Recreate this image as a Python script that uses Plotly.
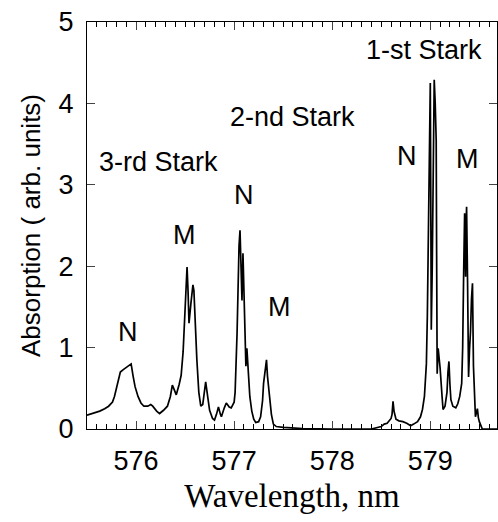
import plotly.graph_objects as go

# Wavelength (nm) and absorption (arb. units)
wavelength = [575.50, 575.56, 575.63, 575.68, 575.72, 575.76, 575.78, 575.80, 575.82, 575.84,
              575.87, 575.90, 575.93, 575.95, 575.97, 575.99, 576.02, 576.05, 576.08, 576.12,
              576.15, 576.17, 576.21, 576.24, 576.28, 576.32, 576.35, 576.37, 576.39, 576.41,
              576.44, 576.46, 576.48, 576.50, 576.52, 576.53, 576.54, 576.56, 576.58, 576.59,
              576.60, 576.62, 576.64, 576.66, 576.68, 576.71, 576.73, 576.75, 576.78, 576.80,
              576.82, 576.84, 576.86, 576.87, 576.90, 576.92, 576.95, 576.97, 577.00, 577.01,
              577.03, 577.04, 577.05, 577.06, 577.07, 577.08, 577.09, 577.10, 577.11, 577.12,
              577.13, 577.14, 577.16, 577.18, 577.20, 577.22, 577.25, 577.27, 577.29, 577.30,
              577.32, 577.33, 577.34, 577.35, 577.36, 577.37, 577.38, 577.40, 577.43, 577.50,
              577.60, 577.70, 578.00, 578.40, 578.50, 578.53, 578.56, 578.58, 578.60, 578.61,
              578.62, 578.63, 578.65, 578.68, 578.72, 578.76, 578.80, 578.83, 578.87, 578.90,
              578.92, 578.94, 578.96, 578.97, 578.98, 578.99, 579.00, 579.005, 579.01, 579.02,
              579.03, 579.04, 579.05, 579.06, 579.065, 579.07, 579.08, 579.09, 579.10, 579.12,
              579.13, 579.15, 579.17, 579.18, 579.19, 579.20, 579.21, 579.23, 579.26, 579.28,
              579.30, 579.32, 579.33, 579.34, 579.35, 579.355, 579.36, 579.365, 579.37, 579.38,
              579.39, 579.40, 579.41, 579.42, 579.43, 579.44, 579.45, 579.46, 579.47, 579.48,
              579.49, 579.50, 579.52, 579.53, 579.68]
absorption = [0.17, 0.19, 0.22, 0.25, 0.28, 0.33, 0.40, 0.50, 0.62, 0.70,
              0.73, 0.76, 0.79, 0.80, 0.65, 0.52, 0.40, 0.32, 0.28, 0.28,
              0.30, 0.28, 0.22, 0.19, 0.23, 0.28, 0.40, 0.54, 0.48, 0.42,
              0.55, 0.66, 0.95, 1.55, 1.99, 1.70, 1.30, 1.55, 1.77, 1.70,
              1.35, 0.85, 0.45, 0.28, 0.30, 0.58, 0.40, 0.23, 0.13, 0.11,
              0.18, 0.27, 0.18, 0.15, 0.26, 0.32, 0.27, 0.26, 0.33, 0.45,
              1.18, 1.90, 2.25, 2.44, 1.95, 1.58, 2.16, 1.70, 1.10, 0.77,
              0.99, 0.75, 0.40, 0.22, 0.12, 0.08, 0.09, 0.15, 0.35, 0.56,
              0.75, 0.85, 0.65, 0.53, 0.49, 0.30, 0.18, 0.06, 0.03, 0.02,
              0.01, 0.005, 0.00, 0.00, 0.03, 0.06, 0.07, 0.10, 0.13, 0.18,
              0.34, 0.22, 0.12, 0.10, 0.09, 0.07, 0.04, 0.06, 0.09, 0.15,
              0.24, 0.40, 0.80, 1.40, 2.20, 3.50, 4.25, 2.80, 1.22, 2.00,
              3.20, 4.29, 4.00, 3.55, 2.00, 0.68, 0.99, 0.90, 0.75, 0.40,
              0.24, 0.28, 0.45, 0.70, 0.83, 0.55, 0.36, 0.28, 0.26, 0.31,
              0.40, 0.56, 1.00, 1.91, 2.65, 2.20, 1.87, 2.50, 2.73, 1.80,
              0.64, 0.98, 1.20, 1.60, 1.79, 0.77, 0.40, 0.15, 0.20, 0.25,
              0.14, 0.09, 0.03, 0.00, 0.00]

# Text labels
label_text = ["3-rd Stark", "2-nd Stark", "1-st Stark", "N", "M", "N", "M", "N", "M"]
label_x = [576.23, 577.60, 578.94, 575.92, 576.49, 577.10, 577.46, 578.76, 579.38]
label_y = [3.28, 3.83, 4.66, 1.19, 2.38, 2.87, 1.50, 3.35, 3.32]

x_ticks = [576, 577, 578, 579]
y_ticks = [0, 1, 2, 3, 4, 5]

SANS = "Liberation Sans, Arial"
fig = go.Figure()
fig.add_trace(go.Scatter(x=wavelength, y=absorption, mode="lines",
                         line=dict(color="black", width=1.7), showlegend=False))

for t, x, y in zip(label_text, label_x, label_y):
    fig.add_annotation(x=x, y=y, text=t, showarrow=False,
                       font=dict(family=SANS, size=27, color="black"))

fig.update_layout(
    width=498, height=522,
    margin=dict(l=87, r=1, t=22, b=93),
    paper_bgcolor="white", plot_bgcolor="white",
    xaxis=dict(range=[575.5, 579.68], tickvals=x_ticks, ticks="inside", ticklen=8,
               showline=True, linecolor="black", linewidth=1, mirror="ticks",
               showgrid=False, zeroline=False, automargin=False,
               tickfont=dict(family=SANS, size=27, color="black"),
               ticklabelstandoff=8,
               minor=dict(dtick=0.1, ticks="inside", ticklen=5, tickcolor="black", showgrid=False),
               title=dict(text="Wavelength, nm", standoff=8,
                          font=dict(family="Liberation Serif, Times New Roman", size=33, color="black"))),
    yaxis=dict(range=[0, 5], tickvals=y_ticks, ticks="inside", ticklen=8,
               showline=True, linecolor="black", linewidth=1, mirror="ticks",
               showgrid=False, zeroline=False, automargin=False,
               tickfont=dict(family=SANS, size=27, color="black"),
               ticklabelstandoff=7,
               title=dict(text="Absorption ( arb. units)", standoff=10,
                          font=dict(family=SANS, size=26, color="black"))),
)

fig.write_html("out.html", config={"displayModeBar": False},
               post_script="document.body.style.margin='0';")
